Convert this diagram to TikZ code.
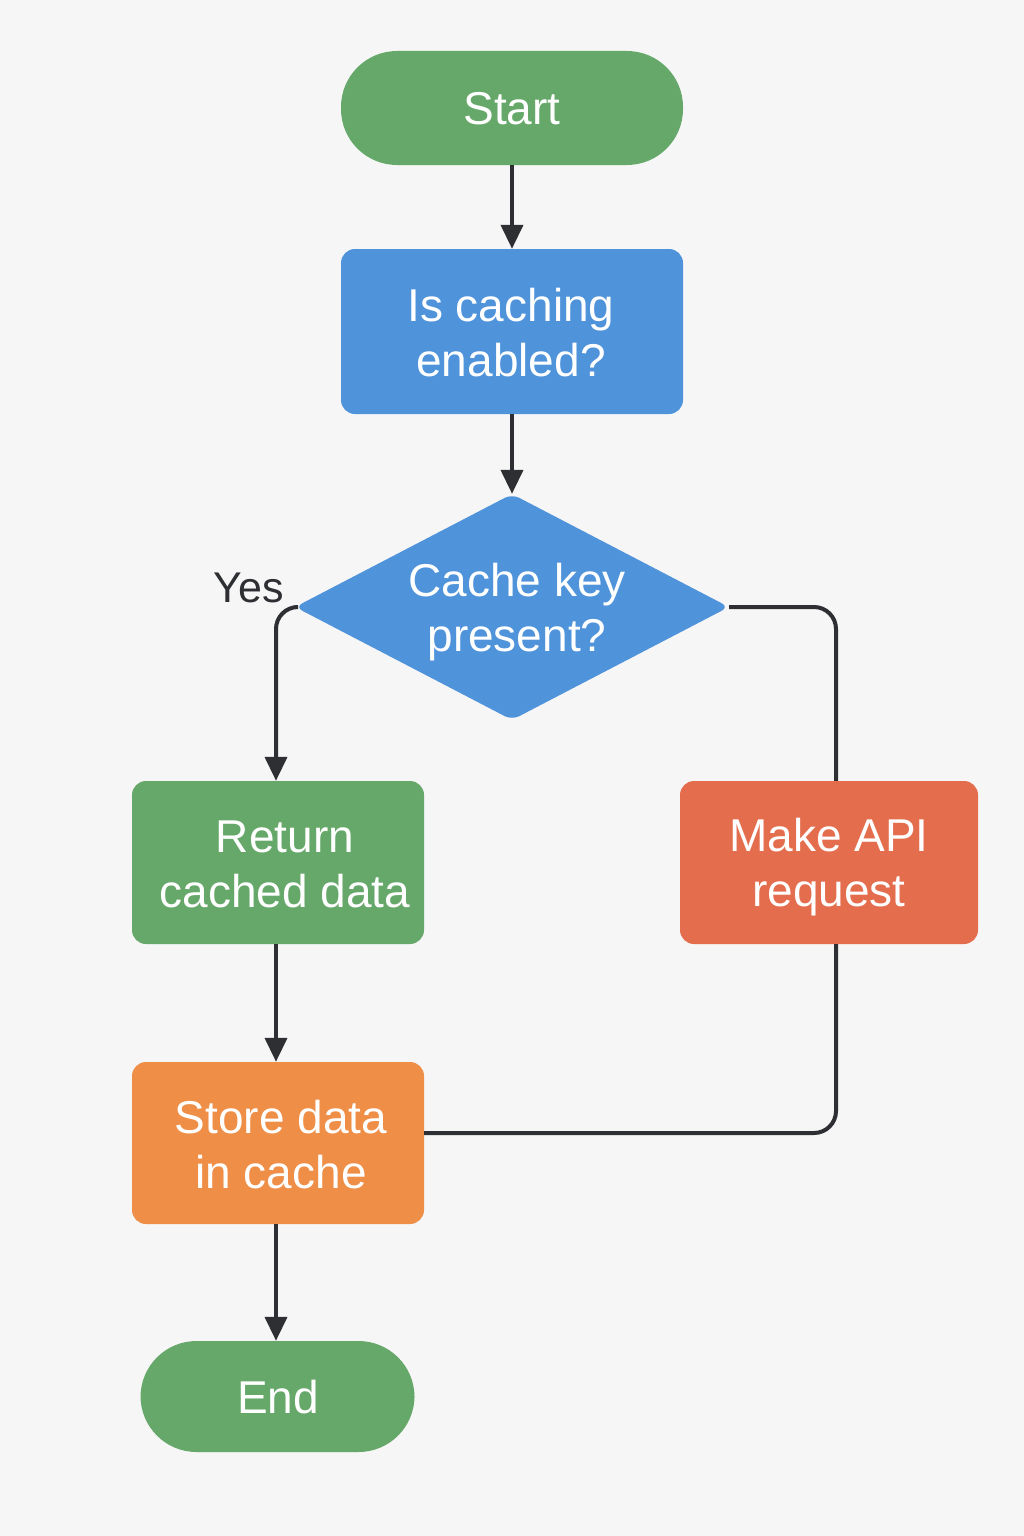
\documentclass[tikz,border=0pt]{standalone}
\usepackage{fontspec}
\setmainfont{Liberation Sans}
\usetikzlibrary{shapes.geometric,arrows.meta,positioning}
\definecolor{bg}{HTML}{F6F6F6}
\definecolor{cgreen}{HTML}{66A86A}
\definecolor{cblue}{HTML}{4F93DB}
\definecolor{cred}{HTML}{E46D4E}
\definecolor{corange}{HTML}{EF8E47}
\definecolor{cline}{HTML}{2E2F33}
\tikzset{
  box/.style={rectangle, rounded corners=14pt, inner sep=0pt},
  term/.style={box, rounded corners=56pt},
  txt/.style={inner sep=0pt, text=white, align=center, font=\fontsize{46}{55}\selectfont},
  dec/.style={diamond, inner sep=0pt, fill=cblue,
    minimum width=434pt, minimum height=226pt, rounded corners=8pt},
  conn/.style={draw=cline, line width=4pt, rounded corners=22pt},
  arr/.style={conn, -{Triangle[width=22pt,length=24pt]}},
}
\begin{document}
\begin{tikzpicture}[x=1pt,y=-1pt]
\fill[bg] (0,0) rectangle (1024,1536);
\useasboundingbox (0,0) rectangle (1024,1536);
\node[term, fill=cgreen, minimum width=342pt, minimum height=114pt] (start) at (512,108) {};
\node[box, fill=cblue, minimum width=342pt, minimum height=165pt] (q1) at (512,331.5) {};
\node[dec] (q2) at (512,607) {};
\node[box, fill=cgreen, minimum width=292pt, minimum height=163pt] (ret) at (278,862.5) {};
\node[box, fill=cred, minimum width=298pt, minimum height=163pt] (api) at (829,862.5) {};
\node[box, fill=corange, minimum width=292pt, minimum height=162pt] (store) at (278,1143) {};
\node[term, fill=cgreen, minimum width=274pt, minimum height=111pt] (end) at (277.5,1396.5) {};

\node[txt] (tstart) at (512,109) {Start};
\node[txt] (tq1) at (511,333) {Is caching\\enabled?};
\node[txt] (tq2) at (517,612) {Cache key\\present?};
\node[txt] (tret) at (285,864) {Return\\cached data};
\node[txt] (tapi) at (829,867) {Make API\\request};
\node[txt] (tstore) at (281,1145) {Store data\\in cache};
\node[txt] (tend) at (278,1397) {End};
\node[text=cline, font=\fontsize{43}{50}\selectfont] (yes) at (249,588) {Yes};

\draw[arr] (start.south) -- (q1.north);
\draw[arr] (q1.south) -- (q2.north);
\draw[arr] (q2.west) -| ([xshift=-2pt]ret.north);
\draw[conn] (q2.east) -| ([xshift=7pt]api.north);
\draw[conn] ([xshift=7pt]api.south) |- ([yshift=10pt]store.east);
\draw[arr] ([xshift=-2pt]ret.south) -- ([xshift=-2pt]store.north);
\draw[arr] ([xshift=-2pt]store.south) -- ([xshift=-1.5pt]end.north);
\end{tikzpicture}
\end{document}
